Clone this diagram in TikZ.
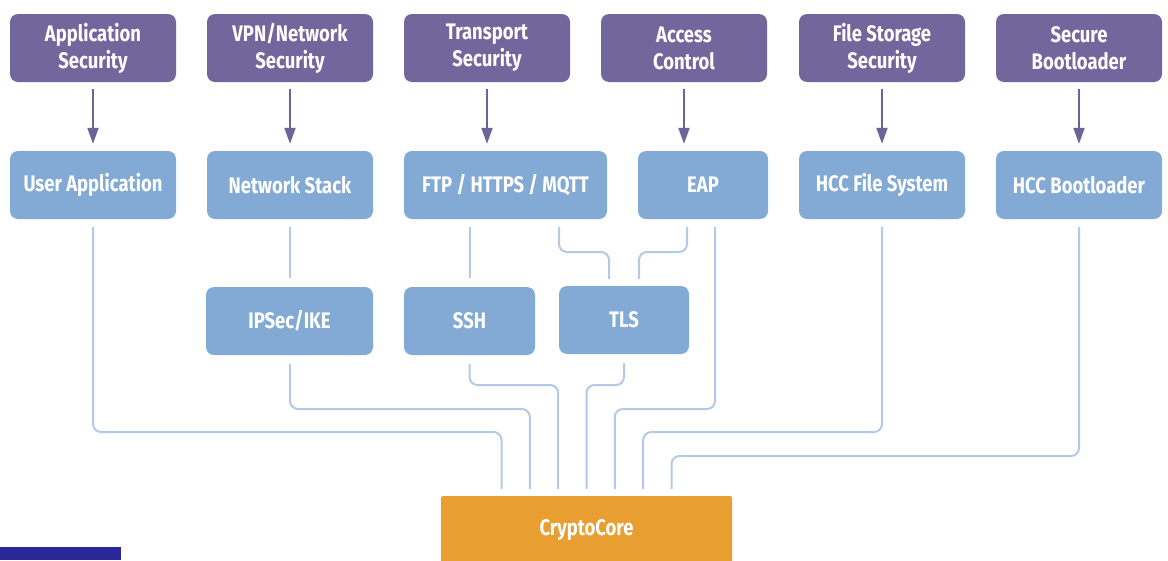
\documentclass[tikz,border=0pt]{standalone}
\usepackage{fontspec}
\setmainfont{Fira Sans}[FakeStretch=0.82]
\usetikzlibrary{arrows.meta}
\definecolor{purpbox}{HTML}{72679C}
\definecolor{purparrow}{HTML}{6E6399}
\definecolor{bluebox}{HTML}{82AAD5}
\definecolor{conncol}{HTML}{B3CAE7}
\definecolor{corecol}{HTML}{E89E31}
\definecolor{darkblue}{HTML}{2A2899}
\begin{document}
\begin{tikzpicture}[x=1pt,y=-1pt,
  boxbase/.style={rectangle,rounded corners=8pt,text=white,align=center,inner sep=0pt,
    font=\fontsize{22.5}{27}\selectfont\bfseries,minimum height=68pt},
  topbox/.style={boxbase,fill=purpbox,minimum width=166pt},
  midbox/.style={boxbase,fill=bluebox},
  corebox/.style={boxbase,rounded corners=2pt,fill=corecol},
  secarrow/.style={draw=purparrow,line width=2pt,-{Triangle[width=11pt,length=16pt]}},
  conn/.style={draw=conncol,line width=2pt,rounded corners=8pt}]
\useasboundingbox (0,0) rectangle (1168,560);
% top row
\node[topbox] (t1) at (93,48) {Application\\Security};
\node[topbox] (t2) at (290,48) {VPN/Network\\Security};
\node[topbox] (t3) at (487,48) {Transport\\Security};
\node[topbox] (t4) at (684,48) {Access\\Control};
\node[topbox] (t5) at (882,48) {File Storage\\Security};
\node[topbox] (t6) at (1079,48) {Secure\\Bootloader};
% second row
\node[midbox,minimum width=166pt] (ua) at (93,185) {User Application};
\node[midbox,minimum width=166pt] (ns) at (290,185) {Network Stack};
\node[midbox,minimum width=203pt] (ftp) at (505.5,185) {FTP / HTTPS / MQTT};
\node[midbox,minimum width=130pt] (eap) at (703,185) {EAP};
\node[midbox,minimum width=166pt] (fs) at (882,185) {HCC File System};
\node[midbox,minimum width=166pt] (bl) at (1079,185) {HCC Bootloader};
% third row
\node[midbox,minimum width=167pt] (ip) at (289.5,321) {IPSec/IKE};
\node[midbox,minimum width=131pt] (ssh) at (469.5,321) {SSH};
\node[midbox,minimum width=130pt] (tls) at (624,320) {TLS};
% core
\node[corebox,minimum width=291pt] (cc) at (586.5,530) {CryptoCore};
\fill[darkblue] (0,547) rectangle (121,560);
% arrows
\foreach \t/\b in {t1/ua,t2/ns,t3/ftp,t4/eap,t5/fs,t6/bl}{
  \draw[secarrow] ([yshift=-7pt]\t.south) -- ([yshift=7pt]\t.south |- \b.north);
}
% levels
\coordinate (L0) at (0,252);
\coordinate (L1) at (0,385);
\coordinate (L2) at (0,409);
\coordinate (L3) at (0,432);
\coordinate (L4) at (0,456);
% entry points into CryptoCore
\foreach \i/\dx in {1/-85,2/-56.7,3/-28.3,4/0,5/28.3,6/56.7,7/85}{
  \coordinate (e\i) at ([xshift=\dx pt,yshift=7pt]cc.north);
}
% start points
\coordinate (sua) at ([yshift=-8pt]ua.south);
\coordinate (sns) at ([yshift=-8pt]ns.south);
\coordinate (tip) at ([xshift=0.5pt,yshift=9pt]ip.north);
\coordinate (sip) at ([xshift=0.5pt,yshift=-9pt]ip.south);
\coordinate (fssh) at ([yshift=-8pt]ssh.north |- ftp.south);
\coordinate (tssh) at ([yshift=9pt]ssh.north);
\coordinate (sssh) at ([yshift=-9pt]ssh.south);
\coordinate (fa) at ([xshift=53.5pt,yshift=-8pt]ftp.south);
\coordinate (ta) at ([xshift=-15pt,yshift=7pt]tls.north);
\coordinate (ea) at ([xshift=-16pt,yshift=-8pt]eap.south);
\coordinate (tb) at ([xshift=15pt,yshift=7pt]tls.north);
\coordinate (eb) at ([xshift=12pt,yshift=-8pt]eap.south);
\coordinate (stls) at ([yshift=-9pt]tls.south);
\coordinate (sfs) at ([yshift=-8pt]fs.south);
\coordinate (sbl) at ([yshift=-8pt]bl.south);
% connectors
\draw[conn] (sua) -- (sua |- L3) -- (e1 |- L3) -- (e1);
\draw[conn] (sns) -- (tip);
\draw[conn] (sip) -- (sip |- L2) -- (e2 |- L2) -- (e2);
\draw[conn] (fssh) -- (tssh);
\draw[conn] (sssh) -- (sssh |- L1) -- (e3 |- L1) -- (e3);
\draw[conn] (fa) -- (fa |- L0) -- (ta |- L0) -- (ta);
\draw[conn] (ea) -- (ea |- L0) -- (tb |- L0) -- (tb);
\draw[conn] (stls) -- (stls |- L1) -- (e4 |- L1) -- (e4);
\draw[conn] (eb) -- (eb |- L2) -- (e5 |- L2) -- (e5);
\draw[conn] (sfs) -- (sfs |- L3) -- (e6 |- L3) -- (e6);
\draw[conn] (sbl) -- (sbl |- L4) -- (e7 |- L4) -- (e7);
\end{tikzpicture}
\end{document}
